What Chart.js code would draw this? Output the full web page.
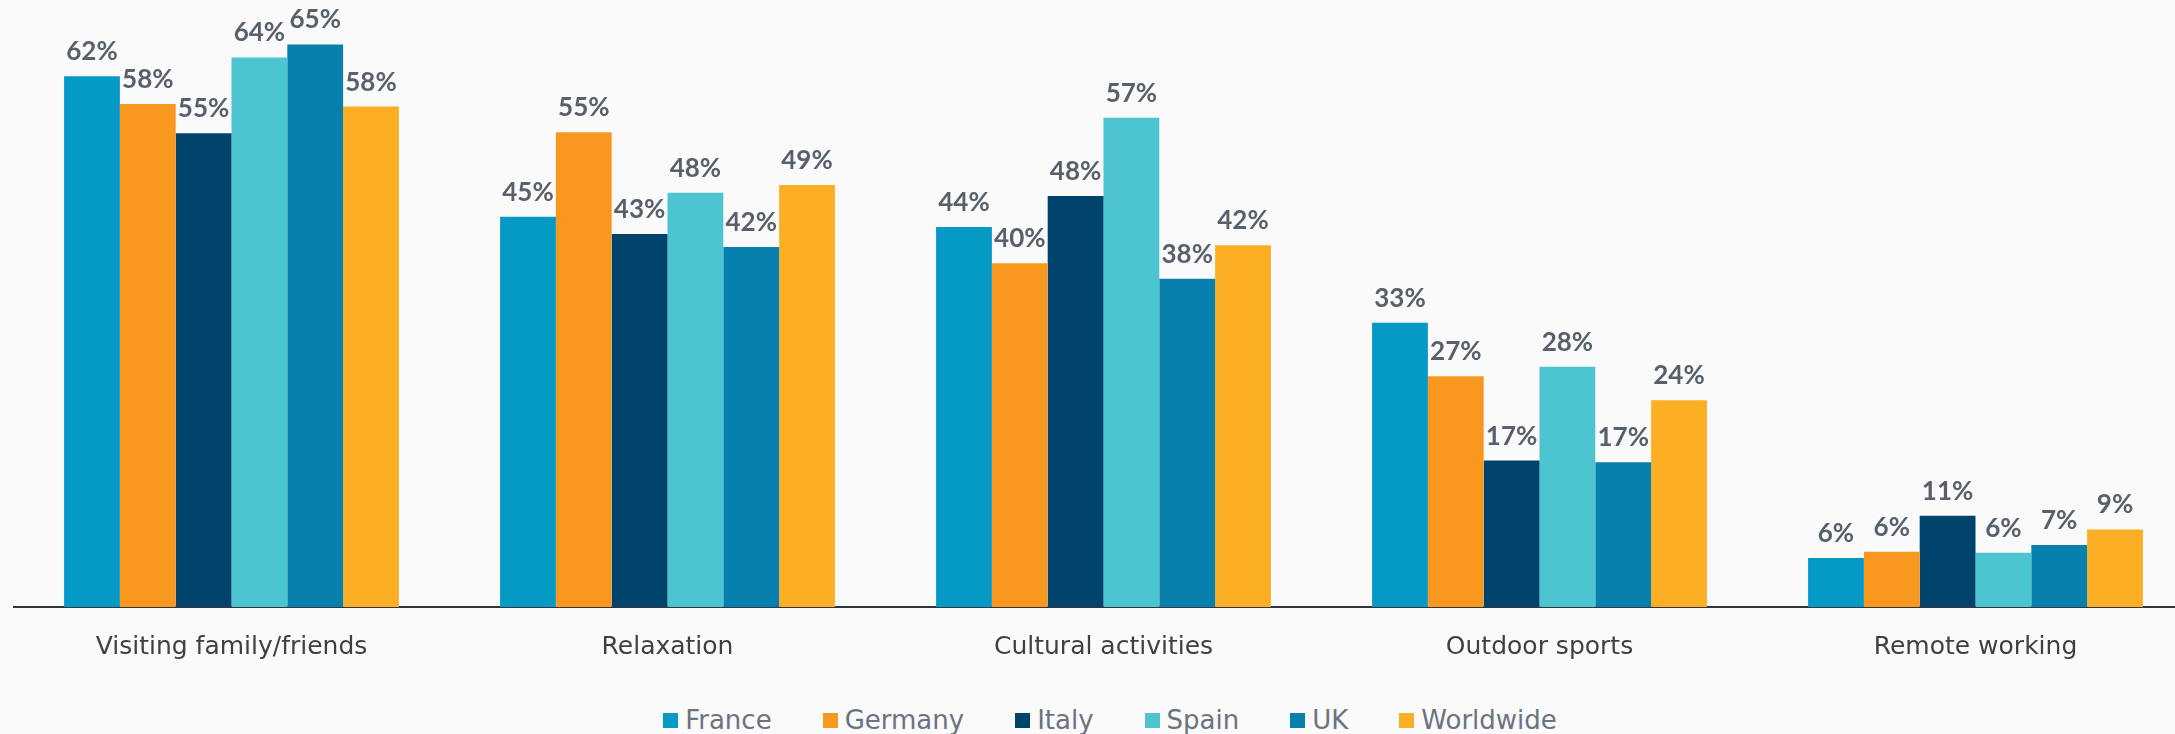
<!DOCTYPE html>
<html>
<head>
<meta charset="utf-8">
<script src="https://cdn.jsdelivr.net/npm/chart.js@4.4.1/dist/chart.umd.min.js"></script>
<style>
  html, body { margin: 0; padding: 0; background: #fafafa; width: 2175px; height: 734px; overflow: hidden; }
  #wrap { position: relative; width: 2200px; height: 687px; }
  #legend {
    position: absolute; left: 0; top: 707px; width: 2220px;
    display: flex; justify-content: center; gap: 51px;
    font-family: "DejaVu Sans", sans-serif; font-size: 26px; line-height: 27px; color: #6b7380;
  }
  #legend .item { display: flex; align-items: center; }
  #legend .box { width: 15px; height: 15px; margin-right: 7px; }
</style>
</head>
<body>
<div id="wrap"><canvas id="chart" width="2200" height="687"></canvas></div>
<div id="legend"></div>
<script>
// categories on the x axis
const categories = ["Visiting family/friends", "Relaxation", "Cultural activities", "Outdoor sports", "Remote working"];

// series (% of respondents)
const france    = [61.6, 45.3, 44.1, 33.0, 5.7];
const germany   = [58.4, 55.1, 39.9, 26.8, 6.4];
const italy     = [55.0, 43.3, 47.7, 17.0, 10.6];
const spain     = [63.8, 48.1, 56.8, 27.9, 6.3];
const uk        = [65.3, 41.8, 38.1, 16.8, 7.2];
const worldwide = [58.1, 49.0, 42.0, 24.0, 9.0];

const seriesNames  = ["France", "Germany", "Italy", "Spain", "UK", "Worldwide"];
const seriesData   = [france, germany, italy, spain, uk, worldwide];
const seriesColors = ["#059ac5", "#f8981f", "#00446e", "#4dc5d0", "#0880ae", "#fcaf25"];

// value labels above each bar
const valueLabels = {
  id: "valueLabels",
  afterDatasetsDraw(chart) {
    const ctx = chart.ctx;
    ctx.save();
    ctx.font = "bold 26px Lato, sans-serif";
    ctx.fillStyle = "#58606c";
    ctx.textAlign = "center";
    ctx.textBaseline = "alphabetic";
    chart.data.datasets.forEach((ds, i) => {
      chart.getDatasetMeta(i).data.forEach((bar, j) => {
        ctx.fillText(Math.round(ds.data[j]) + "%", bar.x, bar.y - 16);
      });
    });
    ctx.restore();
  },
};

const chart = new Chart(document.getElementById("chart").getContext("2d"), {
  type: "bar",
  data: {
    labels: categories,
    datasets: seriesNames.map((name, i) => ({
      label: name,
      data: seriesData[i],
      backgroundColor: seriesColors[i],
      borderWidth: 0,
      categoryPercentage: 0.768,
      barPercentage: 1.0,
    })),
  },
  options: {
    responsive: false,
    animation: false,
    layout: { padding: { top: 4, left: 13.5, right: 6.5, bottom: 0 } },
    plugins: { legend: { display: false }, tooltip: { enabled: false } },
    scales: {
      x: {
        grid: { display: false, drawTicks: false },
        border: { display: true, color: "#30363c", width: 2 },
        ticks: {
          padding: 25,
          color: "#3d4146",
          font: { family: "DejaVu Sans", size: 25 },
        },
      },
      y: { display: false, min: 0, max: 70 },
    },
  },
  plugins: [valueLabels],
});

// legend row under the chart
const legendEl = document.getElementById("legend");
seriesNames.forEach((name, i) => {
  const div = document.createElement("div");
  div.className = "item";
  div.innerHTML = `<span class="box" style="background:${seriesColors[i]}"></span><span>${name}</span>`;
  legendEl.appendChild(div);
});
</script>
</body>
</html>
